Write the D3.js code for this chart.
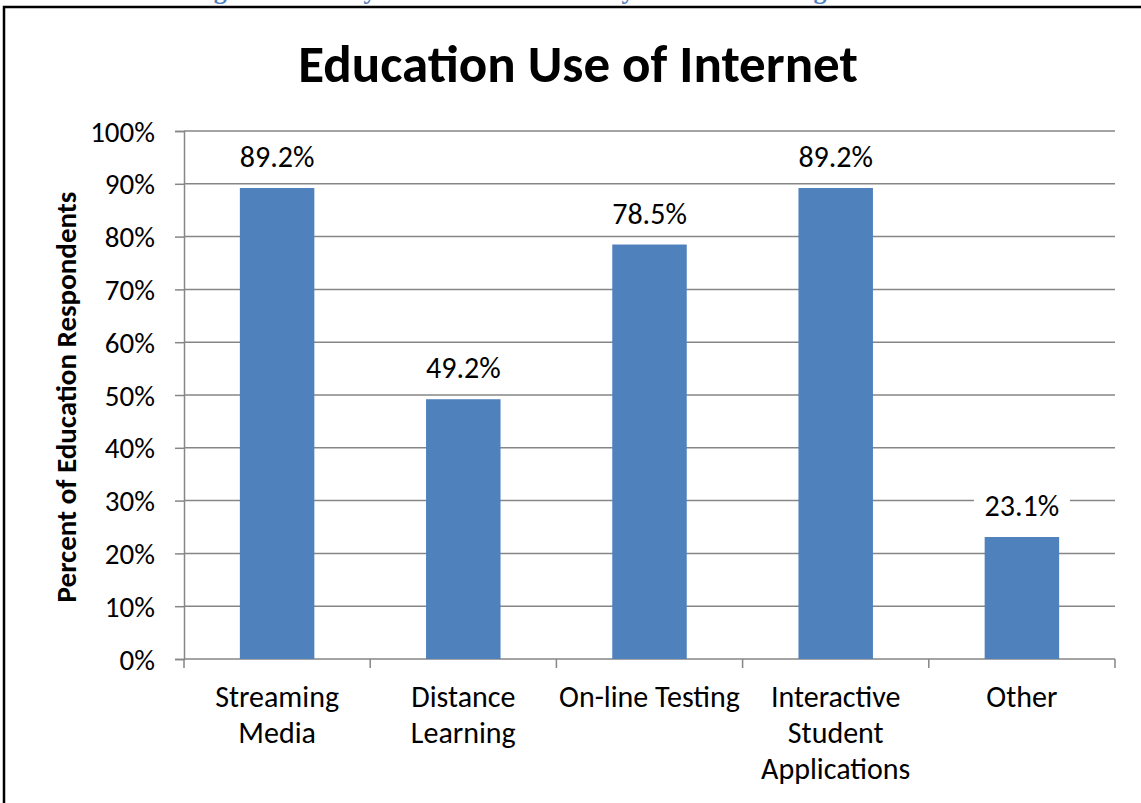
<!DOCTYPE html>
<html><head><meta charset="utf-8">
<script src="https://cdn.jsdelivr.net/npm/d3@7"></script>
<style>html,body{margin:0;padding:0;background:#fff;overflow:hidden}</style>
</head><body>
<script>
const categories = [["Streaming","Media"],["Distance","Learning"],["On-line Testing"],["Interactive","Student","Applications"],["Other"]];
const values = [89.2, 49.2, 78.5, 89.2, 23.1];
const yTicks = [0,10,20,30,40,50,60,70,80,90,100];
const title = "Education Use of Internet";
const yTitle = "Percent of Education Respondents";
const caption = "Figure 8: Survey Data – Internet Use by Educational Organizations";

const W = 1141, H = 803;
const font = "Carlito, Lato, 'Open Sans', sans-serif";
const svg = d3.select("body").append("svg").attr("width", W).attr("height", H);

// caption (partly above the top edge, as in the reference)
svg.append("text").attr("x", 565).attr("y", -1).attr("text-anchor","middle")
  .attr("font-family","'Liberation Serif', serif").attr("font-weight","bold")
  .attr("font-size", 26).attr("fill","#4F81BD").text(caption);

// frame
svg.append("rect").attr("x", 4).attr("y", 7).attr("width", W + 20).attr("height", H + 20)
  .attr("fill","none").attr("stroke","#000").attr("stroke-width", 2.5);

const x0 = 184, x1 = 1115, y0 = 659, y1 = 131;
const x = d3.scaleBand().domain(d3.range(categories.length)).range([x0, x1]).paddingInner(0.6).paddingOuter(0.3);
const xb = d3.scaleBand().domain(d3.range(categories.length)).range([x0, x1]);
const y = d3.scaleLinear().domain([0, 100]).range([y0, y1]);

// gridlines
svg.append("g").selectAll("line").data(yTicks.filter(d => d > 0)).join("line")
  .attr("x1", x0).attr("x2", x1).attr("y1", d => y(d)).attr("y2", d => y(d))
  .attr("stroke", "#868686").attr("stroke-width", 1.5);

// y axis
const yAxis = svg.append("g").attr("transform", `translate(${x0},0)`)
  .call(d3.axisLeft(y).tickValues(yTicks).tickSize(9).tickPadding(20).tickFormat(d => d + "%"));
yAxis.select(".domain").attr("stroke", "#868686").attr("stroke-width", 1.5);
yAxis.selectAll(".tick line").attr("stroke", "#868686").attr("stroke-width", 1.5);
yAxis.selectAll("text").attr("font-family", font).attr("font-size", 29).attr("fill", "#000").attr("dy","0.35em");

// x axis
const xAxis = svg.append("g").attr("transform", `translate(0,${y0})`);
xAxis.append("line").attr("x1", x0).attr("x2", x1).attr("stroke", "#868686").attr("stroke-width", 1.5);
const bounds = d3.range(categories.length + 1).map(i => i < categories.length ? xb(i) : xb(i - 1) + xb.bandwidth());
xAxis.selectAll("line.t").data(bounds).join("line").attr("class","t")
  .attr("x1", d => d).attr("x2", d => d).attr("y1", 0).attr("y2", 9)
  .attr("stroke", "#868686").attr("stroke-width", 1.5);

// bars
svg.append("g").selectAll("rect").data(values).join("rect")
  .attr("x", (d,i) => x(i)).attr("width", x.bandwidth())
  .attr("y", d => y(d)).attr("height", d => y0 - y(d))
  .attr("fill", "#4F81BD");

// value labels with white background
const lbl = svg.append("g").selectAll("g").data(values).join("g")
  .attr("transform", (d,i) => `translate(${x(i) + x.bandwidth()/2},${y(d) - 21})`);
lbl.append("rect").attr("x", -48).attr("y", -30).attr("width", 96).attr("height", 38).attr("fill", "#fff");
lbl.append("text").attr("text-anchor","middle").attr("font-family", font).attr("font-size", 30)
  .attr("fill","#000").text(d => d.toFixed(1) + "%");

// category labels
const cl = svg.append("g").selectAll("text").data(categories).join("text")
  .attr("text-anchor","middle").attr("font-family", font).attr("font-size", 30).attr("fill","#000")
  .attr("transform", (d,i) => `translate(${xb(i) + xb.bandwidth()/2},707)`);
cl.selectAll("tspan").data(d => d).join("tspan").attr("x", 0).attr("dy", (d,j) => j === 0 ? 0 : 36).text(d => d);

// title
svg.append("text").attr("x", 578).attr("y", 82).attr("text-anchor","middle")
  .attr("font-family", font).attr("font-weight","bold").attr("font-size", 53).attr("fill","#000").text(title);

// y title
svg.append("text").attr("transform", "translate(76,397) rotate(-90)").attr("text-anchor","middle")
  .attr("font-family", font).attr("font-weight","bold").attr("font-size", 29).attr("fill","#000").text(yTitle);
</script>
</body></html>
